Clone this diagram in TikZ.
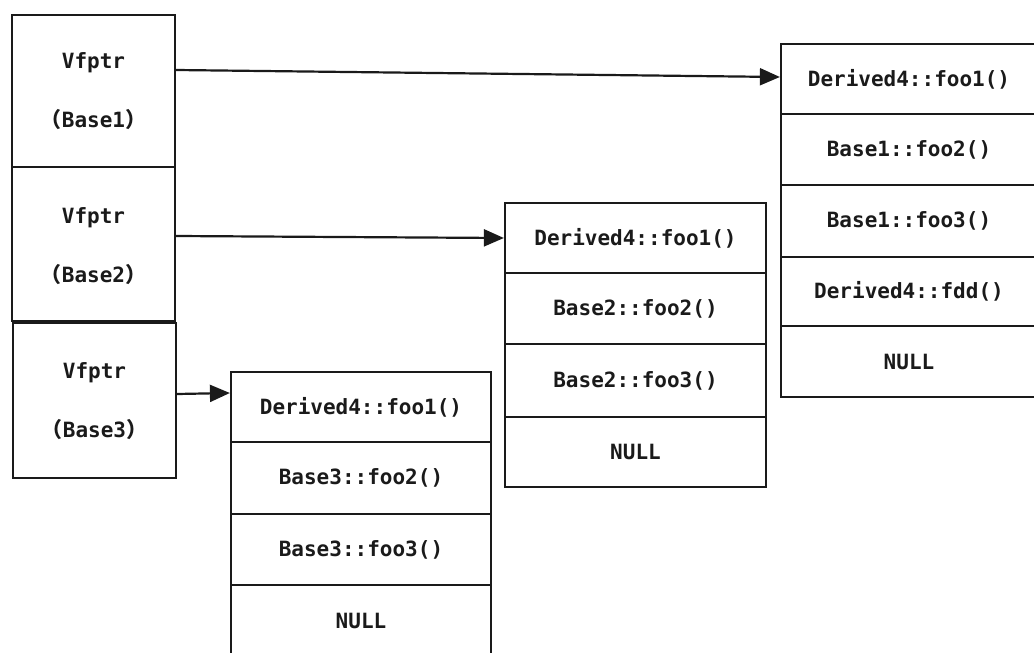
\documentclass[tikz,border=0pt]{standalone}
\usepackage{fontspec}
\setmonofont{DejaVu Sans Mono}
\newfontfamily\cjkfont{Noto Sans CJK SC}
\usetikzlibrary{arrows.meta}
\definecolor{ink}{HTML}{1A1A1A}
\begin{document}
\begin{tikzpicture}[x=1pt,y=-1pt,
  cellbox/.style={draw=ink, line width=2.2pt, rectangle, inner sep=0pt,
    font=\ttfamily\bfseries\fontsize{21}{25}\selectfont, text=ink},
  ptrtext/.style={inner sep=0pt, font=\ttfamily\bfseries\fontsize{21}{25}\selectfont, text=ink},
  arr/.style={draw=ink, line width=2.2pt, -{Triangle[length=20pt,width=17pt]}}]
\useasboundingbox (0,0) rectangle (1034,653);
% left pointer boxes
\node[cellbox, minimum width=163pt, minimum height=152pt] (b1) at (93.5,91) {};
\node[cellbox, minimum width=163pt, minimum height=154pt] (b2) at (93.5,244) {};
\node[cellbox, minimum width=163pt, minimum height=155pt] (b3) at (94.5,400.5) {};
\node[ptrtext] (b1a) at (93.5,63) {Vfptr};
\node[ptrtext] (b1b) at (93.5,120) {{\cjkfont\bfseries （}Base1{\cjkfont\bfseries ）}};
\node[ptrtext] (b2a) at (93.5,218) {Vfptr};
\node[ptrtext] (b2b) at (93.5,275) {{\cjkfont\bfseries （}Base2{\cjkfont\bfseries ）}};
\node[ptrtext] (b3a) at (94.5,373) {Vfptr};
\node[ptrtext] (b3b) at (94.5,430) {{\cjkfont\bfseries （}Base3{\cjkfont\bfseries ）}};
% table 1 (Base1)
\node[cellbox, minimum width=256pt, minimum height=70pt] (t1r1) at (909,79) {Derived4::foo1()};
\node[cellbox, minimum width=256pt, minimum height=71pt] (t1r2) at (909,149.5) {Base1::foo2()};
\node[cellbox, minimum width=256pt, minimum height=72pt] (t1r3) at (909,221) {Base1::foo3()};
\node[cellbox, minimum width=256pt, minimum height=69pt] (t1r4) at (909,291.5) {Derived4::fdd()};
\node[cellbox, minimum width=256pt, minimum height=71pt] (t1r5) at (909,361.5) {NULL};
% table 2 (Base2)
\node[cellbox, minimum width=261pt, minimum height=70pt] (t2r1) at (635.5,238) {Derived4::foo1()};
\node[cellbox, minimum width=261pt, minimum height=71pt] (t2r2) at (635.5,308.5) {Base2::foo2()};
\node[cellbox, minimum width=261pt, minimum height=73pt] (t2r3) at (635.5,380.5) {Base2::foo3()};
\node[cellbox, minimum width=261pt, minimum height=70pt] (t2r4) at (635.5,452) {NULL};
% table 3 (Base3)
\node[cellbox, minimum width=260pt, minimum height=70pt] (t3r1) at (361,407) {Derived4::foo1()};
\node[cellbox, minimum width=260pt, minimum height=72pt] (t3r2) at (361,478) {Base3::foo2()};
\node[cellbox, minimum width=260pt, minimum height=71pt] (t3r3) at (361,549.5) {Base3::foo3()};
\node[cellbox, minimum width=260pt, minimum height=72pt] (t3r4) at (361,621) {NULL};
% pointers
\draw[arr] ([yshift=21pt]b1.east) -- ([yshift=2pt]t1r1.west);
\draw[arr] ([yshift=8pt]b2.east) -- (t2r1.west);
\draw[arr] ([yshift=6.5pt]b3.east) -- ([yshift=14pt]t3r1.west);
\end{tikzpicture}
\end{document}
